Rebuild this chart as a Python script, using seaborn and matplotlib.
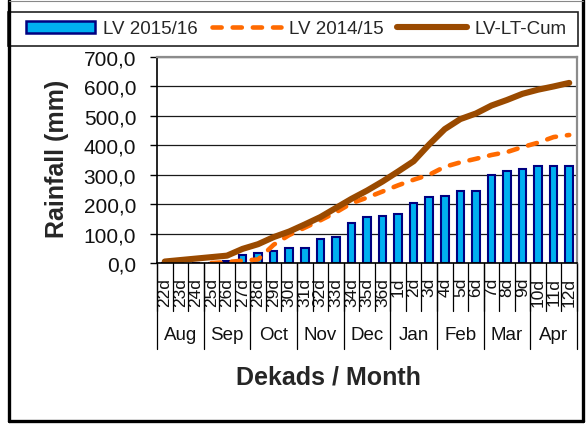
import numpy as np
import pandas as pd
import matplotlib
matplotlib.use("Agg")
import matplotlib.pyplot as plt
import matplotlib.transforms as mtrans
from matplotlib.lines import Line2D
from matplotlib.patches import Patch, Rectangle
from matplotlib.ticker import FuncFormatter
import seaborn as sns

# ---------------- data ----------------
dekads = ["22d", "23d", "24d", "25d", "26d", "27d", "28d", "29d", "30d",
          "31d", "32d", "33d", "34d", "35d", "36d",
          "1d", "2d", "3d", "4d", "5d", "6d", "7d", "8d", "9d", "10d", "11d", "12d"]
months = ["Aug", "Sep", "Oct", "Nov", "Dec", "Jan", "Feb", "Mar", "Apr"]
dekads_per_month = [3, 3, 3, 3, 3, 3, 3, 3, 3]

lv_2015_16 = [0, 0, 0, 1, 8, 28, 33, 42, 50, 50, 80, 88, 136, 155, 161,
              167, 205, 223, 229, 243, 243, 300, 314, 320, 329, 329, 329]
lv_2014_15 = [np.nan, np.nan, np.nan, 0, 3, 8, 12, 62, 95, 120, 145, 172, 203, 222, 243,
              264, 283, 300, 327, 342, 354, 367, 377, 394, 409, 428, 435]
lv_lt_cum = [5, 10, 15, 20, 25, 48, 64, 88, 107, 131, 156, 187, 218, 246, 277,
             311, 346, 403, 455, 489, 508, 535, 554, 575, 589, 600, 612]

series_labels = ["LV 2015/16", "LV 2014/15", "LV-LT-Cum"]

# ---------------- style ----------------
sns.set_style("white")
plt.rcParams["font.family"] = ["Liberation Sans", "DejaVu Sans"]

BAR_FILL = "#00B0F0"
BAR_EDGE = "#000080"
ORANGE = "#FF6A00"
BROWN = "#9A4A00"

W, H = 587, 427
fig = plt.figure(figsize=(W / 100, H / 100), dpi=100)
ax_l, ax_r, ax_t, ax_b = 157, 577, 58, 264
ax = fig.add_axes([ax_l / W, 1 - ax_b / H, (ax_r - ax_l) / W, (ax_b - ax_t) / H])
ax_h = ax_b - ax_t

df = pd.DataFrame({
    "dekad": dekads,
    "pos": np.arange(len(dekads)),
    "lv1516": lv_2015_16,
    "lv1415": lv_2014_15,
    "ltcum": lv_lt_cum,
})

sns.barplot(data=df, x="dekad", y="lv1516", order=dekads, color=BAR_FILL,
            edgecolor=BAR_EDGE, linewidth=1.5, width=0.48, saturation=1,
            ax=ax, zorder=2)
sns.lineplot(data=df, x="pos", y="lv1415", ax=ax, color=ORANGE, linewidth=3.3,
             linestyle=(0, (2.0, 2.4)), dash_capstyle="round", zorder=3)
sns.lineplot(data=df, x="pos", y="ltcum", ax=ax, color=BROWN, linewidth=4.4,
             solid_capstyle="round", solid_joinstyle="round", zorder=4)

n = len(dekads)
ax.set_xlim(-0.5, n - 0.5)
ax.set_ylim(0, 700)
ax.set_yticks(np.arange(0, 701, 100))
ax.yaxis.set_major_formatter(FuncFormatter(lambda v, p: f"{v:.1f}".replace(".", ",")))
ax.tick_params(axis="y", direction="out", length=5, width=1, color="black",
               labelsize=15, pad=10, labelcolor="#111111", left=True)
ax.set_xticks(np.arange(n))
ax.set_xticklabels(dekads, rotation=90, fontsize=12.5)
ax.tick_params(axis="x", length=0, pad=10, labelcolor="#111111")

ax.yaxis.grid(True, color="#1a1a1a", linewidth=0.9)
ax.xaxis.grid(False)
ax.set_axisbelow(True)

for s in ["left", "bottom"]:
    ax.spines[s].set_color("black")
    ax.spines[s].set_linewidth(1.2)
for s in ["top", "right"]:
    ax.spines[s].set_color("#8c8c8c")
    ax.spines[s].set_linewidth(1.6)
ax.spines["bottom"].set_zorder(5)

# category table below axis
trans = mtrans.blended_transform_factory(ax.transData, ax.transAxes)
for i in range(n + 1):
    ax.plot([i - 0.5, i - 0.5], [0, -48 / ax_h], transform=trans, clip_on=False,
            color="black", lw=0.9)
start = 0
for m, cnt in zip(months, dekads_per_month):
    ax.plot([start - 0.5, start - 0.5], [0, -86 / ax_h], transform=trans,
            clip_on=False, color="black", lw=0.9)
    ax.text(start + (cnt - 1) / 2, -71 / ax_h, m, transform=trans, ha="center",
            va="center", fontsize=13.5, color="#111111")
    start += cnt
ax.plot([start - 0.5, start - 0.5], [0, -86 / ax_h], transform=trans,
        clip_on=False, color="black", lw=0.9)

ax.set_xlabel("Dekads / Month", fontsize=18, fontweight="bold")
ax.xaxis.set_label_coords((328 - ax_l) / (ax_r - ax_l), -(378 - ax_b) / ax_h)
ax.xaxis.label.set_va("center")
ax.set_ylabel("Rainfall (mm)", fontsize=18, fontweight="bold")
ax.yaxis.set_label_coords((57 - ax_l) / (ax_r - ax_l), (ax_b - 159) / ax_h)
ax.yaxis.label.set_va("center")

# legend
handles = [
    Patch(facecolor=BAR_FILL, edgecolor=BAR_EDGE, linewidth=1.8),
    Line2D([], [], color=ORANGE, linewidth=3.3, linestyle=(0, (2.0, 2.4)),
           dash_capstyle="round"),
    Line2D([], [], color=BROWN, linewidth=4.4, solid_capstyle="round"),
]
fig.legend(handles, series_labels, loc="center left",
           bbox_to_anchor=(26 / W, 1 - 30 / H), ncol=3, frameon=False,
           fontsize=13.5, handlelength=3.7, handletextpad=0.4,
           columnspacing=0.75, handleheight=0.55, borderpad=0, borderaxespad=0)
fig.add_artist(Rectangle((8 / W, 1 - 47 / H), 570 / W, 34 / H,
                         transform=fig.transFigure, fill=False,
                         edgecolor="#222222", linewidth=1.2))

# outer frame
fig.add_artist(Line2D([9 / W, 9 / W], [1 - 1 / H, 1 - 422 / H], transform=fig.transFigure,
                      color="black", lw=2.4))
fig.add_artist(Line2D([9 / W, 583 / W], [1 - 422 / H, 1 - 422 / H], transform=fig.transFigure,
                      color="black", lw=2.4))
fig.add_artist(Line2D([583 / W, 583 / W], [1 - 1 / H, 1 - 422 / H], transform=fig.transFigure,
                      color="black", lw=2.4))
fig.add_artist(Line2D([9 / W, 583 / W], [1 - 1.5 / H, 1 - 1.5 / H], transform=fig.transFigure,
                      color="#888888", lw=0.8))

fig.savefig("out.png", dpi=100)
